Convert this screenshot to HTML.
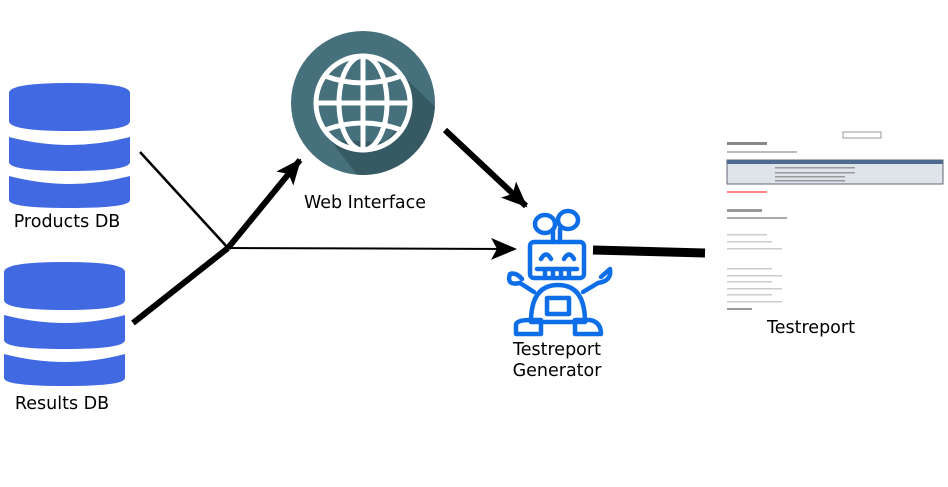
<!DOCTYPE html>
<html><head><style>
body{margin:0;background:#fff;width:948px;height:487px;overflow:hidden;position:relative;font-family:"DejaVu Sans","Liberation Sans",sans-serif}
.t{position:absolute;font-size:17.5px;color:#000;text-align:center;white-space:nowrap}
</style></head><body>
<svg width="948" height="487" style="position:absolute;left:0;top:0">
<defs>
<marker id="b" markerWidth="26" markerHeight="22" refX="24" refY="11" orient="auto" markerUnits="userSpaceOnUse"><path d="M0,0 L26,11 L0,22 L6,11 z"/></marker>
<clipPath id="gc"><circle cx="363" cy="103" r="72"/></clipPath>
</defs>
<g fill="#4169e1">
<path d="M9,93 Q9,83 70,83 Q130,83 130,93 L130,121 Q130,131 70,131 Q9,131 9,121Z"/>
<path d="M9,137 Q40,145 70,145 Q100,145 130,137 L130,162 Q130,171 70,171 Q9,171 9,162Z"/>
<path d="M9,176 Q40,184 70,184 Q100,184 130,176 L130,200 Q130,208 70,208 Q9,208 9,200Z"/>
<path d="M4,272 Q4,262 65,262 Q125,262 125,272 L125,300 Q125,310 65,310 Q4,310 4,300Z"/>
<path d="M4,315 Q35,323 65,323 Q95,323 125,315 L125,340 Q125,349 65,349 Q4,349 4,340Z"/>
<path d="M4,354 Q35,362 65,362 Q95,362 125,354 L125,378 Q125,386 65,386 Q4,386 4,378Z"/>
</g>
<circle cx="363" cy="103" r="72" fill="#46707c"/>
<path d="M397,70 L480,150 L400,230 L330,140 L385,142 L406,120 L410,90 Z" fill="#365a64" clip-path="url(#gc)"/>
<g fill="none" stroke="#fff" stroke-width="5">
<circle cx="363" cy="103" r="47"/>
<ellipse cx="363" cy="103" rx="24" ry="47"/>
<line x1="363" y1="56" x2="363" y2="150"/>
<line x1="316" y1="103" x2="410" y2="103"/>
<path d="M325,76 Q363,90 401,76"/>
<path d="M325,130 Q363,116 401,130"/>
</g>
<g stroke="#000" fill="none">
<line x1="140" y1="152" x2="228" y2="248" stroke-width="2.5"/>
<line x1="133" y1="323" x2="228" y2="248" stroke-width="6"/>
<line x1="228" y1="248" x2="300" y2="160" stroke-width="6" marker-end="url(#b)"/>
<line x1="228" y1="248" x2="515" y2="249" stroke-width="2" marker-end="url(#b)"/>
<line x1="445" y1="130" x2="526" y2="206" stroke-width="6" marker-end="url(#b)"/>
<line x1="593" y1="250" x2="705" y2="253" stroke-width="9"/>
</g>
<g fill="none" stroke="#0d6ee8" stroke-width="4.5" stroke-linecap="round" stroke-linejoin="round">
<ellipse cx="545" cy="224" rx="10" ry="9"/>
<ellipse cx="568" cy="220" rx="10" ry="9"/>
<path d="M553,231 L553,242 M560,229 L560,242"/>
<rect x="530" y="242" width="54" height="36" rx="4"/>
<path d="M541,259 Q546,250 551,259 M564,259 Q569,250 574,259"/>
<path d="M537,269 L577,269 M545,269 L545,275 M553,269 L553,275 M561,269 L561,275 M569,269 L569,275"/>
<path d="M531,322 Q531,285 558,285 Q585,285 585,322 Z"/>
<rect x="547" y="298" width="22" height="16"/>
<path d="M534,292 L520,283 M583,292 L598,283"/>
<path d="M520,283 Q506,286 510,274 Q516,272 522,279"/>
<path d="M598,283 Q612,281 610,269 L601,277"/>
<path d="M516,334 L516,325 Q516,320 530,320 L541,320 L541,334 Z M575,334 L575,320 L590,320 Q601,322 601,334 Z"/>
</g>
<g>
<rect x="843" y="132" width="38" height="6" fill="none" stroke="#999" stroke-width="1"/>
<rect x="727" y="142" width="40" height="3" fill="#888"/>
<rect x="727" y="151" width="70" height="2" fill="#bbb"/>
<rect x="727" y="160" width="216" height="24" fill="#dfe3ea" stroke="#667" stroke-width="1"/>
<rect x="727" y="160" width="216" height="4" fill="#4e6a8e"/>
<g fill="#999"><rect x="775" y="167" width="80" height="1.5"/><rect x="775" y="172" width="80" height="1.5"/><rect x="775" y="176" width="70" height="1.5"/><rect x="775" y="180" width="70" height="1.5"/></g>
<rect x="727" y="191" width="40" height="2" fill="#f88"/>
<rect x="727" y="209" width="35" height="3" fill="#999"/>
<rect x="727" y="217" width="60" height="2" fill="#aaa"/>
<g fill="#ccc"><rect x="727" y="234" width="40" height="1.5"/><rect x="727" y="241" width="45" height="1.5"/><rect x="727" y="248" width="55" height="1.5"/><rect x="727" y="268" width="45" height="1.5"/><rect x="727" y="275" width="55" height="1.5"/><rect x="727" y="281" width="45" height="1.5"/><rect x="727" y="288" width="55" height="1.5"/><rect x="727" y="294" width="45" height="1.5"/><rect x="727" y="301" width="55" height="1.5"/></g>
<rect x="727" y="308" width="25" height="2" fill="#999"/>
</g>
</svg>
<div class="t" style="left:285px;top:193px;width:160px">Web Interface</div>
<div class="t" style="left:-13px;top:212px;width:160px">Products DB</div>
<div class="t" style="left:-18px;top:394px;width:160px">Results DB</div>
<div class="t" style="left:477px;top:340px;width:160px;line-height:21px">Testreport<br>Generator</div>
<div class="t" style="left:731px;top:318px;width:160px">Testreport</div>
</body></html>
